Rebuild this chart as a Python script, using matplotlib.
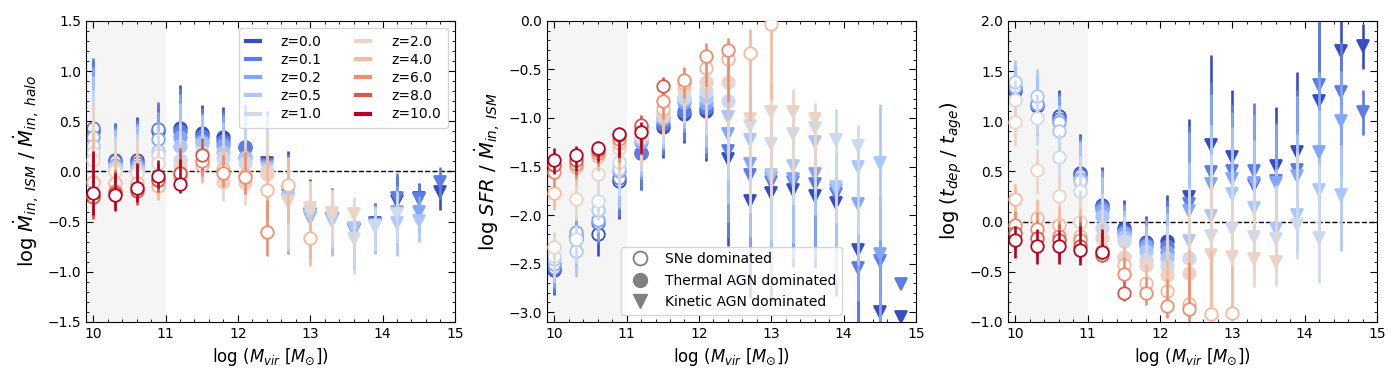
import numpy as np
import matplotlib
matplotlib.use('Agg')
import matplotlib.pyplot as plt
from matplotlib.lines import Line2D
from matplotlib.ticker import AutoMinorLocator, MultipleLocator

nan = np.nan

redshifts = [0.0, 0.1, 0.2, 0.5, 1.0, 2.0, 4.0, 6.0, 8.0, 10.0]
log_mvir = [10.0, 10.3, 10.6, 10.9, 11.2, 11.5, 11.8, 12.1, 12.4,
            12.7, 13.0, 13.3, 13.6, 13.9, 14.2, 14.5, 14.8]

# first mass bin where thermal / kinetic AGN feedback dominates (None = never)
thermal_from = [11.2, 11.2, 11.2, 11.2, 11.2, 11.2, None, None, None, None]
kinetic_from = [12.4, 12.4, 12.4, 12.4, 12.7, 12.7, None, None, None, None]

# relative size of the error bars for each redshift
err_scale = [1.0, 1.0, 1.0, 1.0, 0.9, 0.8, 0.7, 0.6, 0.6, 0.6]

# panel 1: log Mdot_in,ISM / Mdot_in,halo
ism_halo = [
    [0.40, 0.11, 0.11, 0.40, 0.43, 0.38, 0.34, 0.24, 0.08, -0.21, -0.42, -0.46, -0.58, -0.51, -0.30, -0.27, -0.21],
    [0.43, 0.10, 0.08, 0.42, 0.40, 0.35, 0.30, 0.24, 0.06, -0.24, -0.44, -0.47, -0.57, -0.52, -0.27, -0.28, -0.11],
    [0.34, 0.06, 0.05, 0.32, 0.34, 0.30, 0.26, 0.14, 0.04, -0.29, -0.46, -0.48, -0.58, -0.53, -0.40, -0.40, nan],
    [0.25, 0.04, 0.02, 0.20, 0.25, 0.28, 0.19, 0.13, 0.02, -0.27, -0.44, -0.49, -0.56, -0.54, -0.51, -0.49, nan],
    [0.18, 0.02, -0.01, 0.16, 0.11, 0.19, 0.13, 0.08, 0.00, -0.30, -0.40, -0.45, -0.67, -0.54, -0.42, nan, nan],
    [0.11, 0.00, -0.02, 0.08, 0.05, 0.10, -0.11, -0.12, -0.03, -0.31, -0.37, -0.41, -0.42, nan, nan, nan, nan],
    [-0.11, -0.12, -0.12, -0.15, -0.02, 0.06, 0.02, -0.04, -0.19, -0.14, -0.66, nan, nan, nan, nan, nan, nan],
    [-0.25, -0.20, -0.17, -0.09, -0.05, 0.10, -0.02, -0.06, -0.60, nan, nan, nan, nan, nan, nan, nan, nan],
    [-0.26, -0.22, -0.20, -0.09, -0.02, 0.16, nan, nan, nan, nan, nan, nan, nan, nan, nan, nan, nan],
    [-0.22, -0.24, -0.17, -0.05, -0.13, nan, nan, nan, nan, nan, nan, nan, nan, nan, nan, nan, nan],
]
ism_halo_lo = [0.35, 0.25, 0.22, 0.20, 0.14, 0.25, 0.23, 0.27, 0.40, 0.53, 0.41, 0.35, 0.39, 0.28, 0.33, 0.21, 0.17]
ism_halo_hi = [0.70, 0.37, 0.43, 0.27, 0.43, 0.28, 0.30, 0.42, 0.52, 0.41, 0.34, 0.29, 0.20, 0.19, 0.25, 0.15, 0.15]

# panel 2: log SFR / Mdot_in,ISM
sfr_ism = [
    [-2.57, -2.25, -2.20, -1.65, -1.36, -1.09, -0.96, -0.93, -1.42, -1.85, -1.77, -1.74, -1.80, -1.88, -2.36, -3.00, -3.05],
    [-2.55, -2.22, -2.08, -1.62, -1.36, -1.06, -0.93, -0.90, -1.34, -1.59, -1.66, -1.66, -1.68, -1.78, -2.55, -2.47, -2.71],
    [-2.50, -2.17, -2.05, -1.55, -1.25, -1.01, -0.84, -0.85, -1.17, -1.47, -1.62, -1.63, -1.58, -1.74, -1.89, -2.40, nan],
    [-2.45, -2.37, -1.95, -1.53, -1.22, -0.99, -0.80, -0.79, -0.99, -1.23, -1.59, -1.49, -1.25, -1.71, -1.51, -1.46, nan],
    [-2.42, -2.25, -1.85, -1.45, -1.20, -0.98, -0.78, -0.72, -0.82, -1.08, -1.27, -1.17, -1.10, -1.23, -1.29, nan, nan],
    [-2.33, -1.83, -1.58, -1.31, -1.18, -0.95, -0.70, -0.63, -0.63, -1.01, -0.94, -0.94, -1.01, nan, nan, nan, nan],
    [-1.77, -1.51, -1.39, -1.26, -1.12, -0.91, -0.64, -0.49, -0.39, -0.33, -0.03, nan, nan, nan, nan, nan, nan],
    [-1.56, -1.47, -1.36, -1.22, -1.09, -0.82, -0.61, -0.36, -0.30, nan, nan, nan, nan, nan, nan, nan, nan],
    [-1.48, -1.43, -1.33, -1.18, -1.07, -0.67, nan, nan, nan, nan, nan, nan, nan, nan, nan, nan, nan],
    [-1.43, -1.38, -1.31, -1.17, -1.14, nan, nan, nan, nan, nan, nan, nan, nan, nan, nan, nan, nan],
]
sfr_ism_lo = [0.25, 0.27, 0.22, 0.39, 0.38, 0.32, 0.30, 0.51, 0.90, 1.00, 1.10, 0.80, 0.75, 0.95, 1.00, 0.80, 0.0]
sfr_ism_hi = [0.20, 0.16, 0.13, 0.12, 0.16, 0.16, 0.22, 0.22, 0.21, 0.35, 0.34, 0.30, 0.20, 0.36, 0.24, 0.60, 0.0]

# panel 3: log t_dep / t_age
tdep_tage = [
    [1.30, 1.15, 1.05, 0.48, 0.16, -0.06, -0.20, -0.19, 0.24, 0.76, 0.64, 0.36, 0.55, 0.69, 1.20, 1.70, 1.75],
    [1.32, 1.17, 1.02, 0.46, 0.14, -0.09, -0.22, -0.24, 0.17, 0.49, 0.50, 0.50, 0.40, 0.51, 1.36, 1.29, 1.09],
    [1.34, 1.17, 0.99, 0.42, 0.12, -0.11, -0.24, -0.30, 0.11, 0.37, 0.42, 0.38, 0.38, 0.45, 0.69, 1.00, nan],
    [1.39, 1.25, 0.90, 0.40, 0.06, -0.15, -0.29, -0.36, -0.19, 0.06, 0.27, 0.13, -0.07, 0.07, 0.31, 0.26, nan],
    [1.21, 1.03, 0.64, 0.30, -0.06, -0.19, -0.38, -0.44, -0.36, -0.14, -0.07, -0.15, -0.17, -0.03, -0.16, nan, nan],
    [0.99, 0.51, 0.25, 0.00, -0.16, -0.35, -0.43, -0.53, -0.51, -0.33, -0.35, -0.37, -0.40, nan, nan, nan, nan],
    [0.22, 0.04, -0.03, -0.14, -0.28, -0.43, -0.61, -0.69, -0.82, -0.92, -0.91, nan, nan, nan, nan, nan, nan],
    [-0.03, -0.07, -0.14, -0.18, -0.31, -0.52, -0.71, -0.84, -0.87, nan, nan, nan, nan, nan, nan, nan, nan],
    [-0.11, -0.16, -0.18, -0.24, -0.33, -0.71, nan, nan, nan, nan, nan, nan, nan, nan, nan, nan, nan],
    [-0.18, -0.24, -0.24, -0.28, -0.30, nan, nan, nan, nan, nan, nan, nan, nan, nan, nan, nan, nan],
]
tdep_tage_lo = [0.30, 0.30, 0.30, 0.25, 0.12, 0.14, 0.20, 0.20, 0.20, 0.50, 0.30, 0.35, 0.30, 0.38, 0.50, 0.55, 0.23]
tdep_tage_hi = [0.22, 0.27, 0.26, 0.39, 0.38, 0.27, 0.26, 0.45, 0.78, 0.90, 0.67, 0.68, 0.59, 0.80, 0.80, 0.50, 0.22]

colors = plt.cm.coolwarm(np.linspace(0, 1, len(redshifts)))
mvir = np.array(log_mvir)


def regime_masks(i):
    t0 = thermal_from[i] if thermal_from[i] is not None else 99
    k0 = kinetic_from[i] if kinetic_from[i] is not None else 99
    sne = mvir < t0 - 1e-6
    kin = mvir >= k0 - 1e-6
    th = ~sne & ~kin
    return sne, th, kin


def draw_panel(ax, table, err_lo, err_hi):
    lo = np.array(err_lo)
    hi = np.array(err_hi)
    for i, z in enumerate(redshifts):
        y = np.array(table[i], dtype=float)
        c = colors[i]
        sne, th, kin = regime_masks(i)
        for mask, mk, fc in [(sne, 'o', 'white'), (th, 'o', c), (kin, 'v', c)]:
            m = mask & ~np.isnan(y)
            if not m.any():
                continue
            ax.errorbar(mvir[m], y[m], yerr=[lo[m] * err_scale[i], hi[m] * err_scale[i]],
                        fmt=mk, color=c, mfc=fc, mec=c, ms=9, mew=1.3,
                        elinewidth=1.9, capsize=0, zorder=2 + i * 0.1)
    ax.axvspan(9.9, 11.0, color='0.96', zorder=0, lw=0)
    ax.set_xlim(9.9, 15)
    ax.xaxis.set_major_locator(MultipleLocator(1))
    ax.xaxis.set_minor_locator(AutoMinorLocator())
    ax.yaxis.set_minor_locator(AutoMinorLocator())
    ax.tick_params(which='both', direction='in', top=True, right=True, labelsize=10)
    ax.tick_params(which='major', length=5)
    ax.tick_params(which='minor', length=2.5)
    ax.set_xlabel(r'log ($M_{vir}$ [$M_{\odot}$])', fontsize=12)


fig, axes = plt.subplots(1, 3, figsize=(14, 3.8), dpi=100)
plt.subplots_adjust(left=0.0614, right=0.9836, bottom=0.153, top=0.945, wspace=0.25)

ax1, ax2, ax3 = axes
draw_panel(ax1, ism_halo, ism_halo_lo, ism_halo_hi)
ax1.set_ylim(-1.5, 1.5)
ax1.yaxis.set_major_locator(MultipleLocator(0.5))
ax1.axhline(0, color='k', ls='--', lw=1, zorder=1)
ax1.set_ylabel(r'log $\dot{M}_{in,\ ISM}$ / $\dot{M}_{in,\ halo}$', fontsize=14)

draw_panel(ax2, sfr_ism, sfr_ism_lo, sfr_ism_hi)
ax2.set_ylim(-3.1, 0)
ax2.yaxis.set_major_locator(MultipleLocator(0.5))
ax2.set_ylabel(r'log $SFR$ / $\dot{M}_{in,\ ISM}$', fontsize=14)

draw_panel(ax3, tdep_tage, tdep_tage_lo, tdep_tage_hi)
ax3.set_ylim(-1, 2)
ax3.yaxis.set_major_locator(MultipleLocator(0.5))
ax3.axhline(0, color='k', ls='--', lw=1, zorder=1)
ax3.set_ylabel(r'log ($t_{dep}$ / $t_{age}$)', fontsize=14)

# redshift legend
z_handles = [Line2D([], [], color=colors[i], lw=3) for i in range(len(redshifts))]
z_labels = ['z=%.1f' % z for z in redshifts]
leg1 = ax1.legend(z_handles, z_labels, loc='upper right', ncol=2, fontsize=10,
                  handlelength=1.0, columnspacing=2.5, handletextpad=1.5,
                  borderpad=0.5, labelspacing=0.3)
leg1.set_zorder(10)

# feedback regime legend
fb_handles = [
    Line2D([], [], ls='none', marker='o', ms=10, mfc='white', mec='gray', mew=1.3),
    Line2D([], [], ls='none', marker='o', ms=10, mfc='gray', mec='gray'),
    Line2D([], [], ls='none', marker='v', ms=10, mfc='gray', mec='gray'),
]
fb_labels = ['SNe dominated', 'Thermal AGN dominated', 'Kinetic AGN dominated']
leg2 = ax2.legend(fb_handles, fb_labels, loc='lower center', fontsize=10,
                  borderpad=0.4, labelspacing=0.55)
leg2.set_zorder(10)

fig.savefig('out.png', dpi=100)
